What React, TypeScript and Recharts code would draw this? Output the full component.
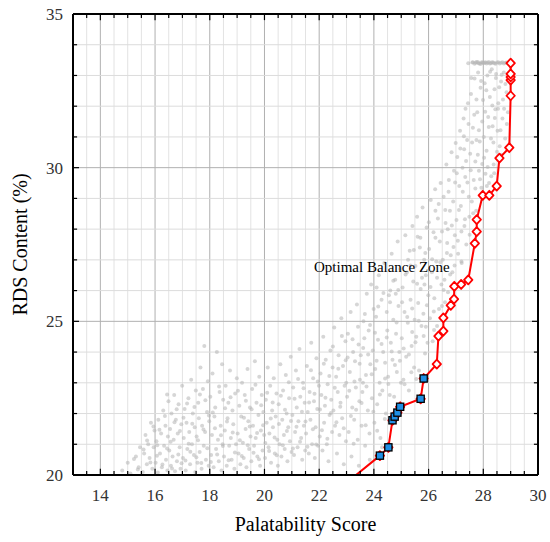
import React from 'react';
import { ScatterChart, Scatter, XAxis, YAxis, ReferenceLine, ReferenceDot } from 'recharts';

const FONT = '"Liberation Serif", "Times New Roman", Times, serif';

const xTicks = [14, 16, 18, 20, 22, 24, 26, 28, 30];
const yTicks = [20, 25, 30, 35];
const xGrid = [13.5, 14, 14.5, 15, 15.5, 16, 16.5, 17, 17.5, 18, 18.5, 19, 19.5, 20, 20.5, 21, 21.5, 22, 22.5, 23, 23.5, 24, 24.5, 25, 25.5, 26, 26.5, 27, 27.5, 28, 28.5, 29, 29.5];
const yGrid = [21, 22, 23, 24, 25, 26, 27, 28, 29, 30, 31, 32, 33, 34];

// simulated solutions (grey cloud)
const cloud: [number, number][] = [
  [14.8, 20.15], [15.0, 20.4], [15.1, 20.05], [15.3, 20.6], [15.4, 20.25], [15.45, 20.9],
  [15.55, 20.1], [15.6, 20.7], [15.65, 21.3], [15.7, 20.35], [15.75, 21.0], [15.8, 20.55], [15.85, 21.7], [15.9, 20.2], [15.95, 20.9], [15.98, 21.45],
  [16.02, 20.4], [16.05, 21.1], [16.1, 20.08], [16.12, 21.8], [16.18, 20.7], [16.22, 21.35], [16.25, 20.25], [16.3, 22.1], [16.33, 20.95], [16.38, 21.6], [16.4, 20.5], [16.45, 20.15], [16.47, 21.25], [16.49, 22.4],
  [16.52, 20.8], [16.55, 21.5], [16.58, 20.3], [16.6, 22.0], [16.64, 20.6], [16.68, 21.15], [16.7, 22.6], [16.73, 20.12], [16.76, 21.8], [16.8, 20.45], [16.83, 21.35], [16.86, 22.3], [16.9, 20.9], [16.93, 20.2], [16.96, 21.65], [16.99, 22.9],
  [17.02, 20.55], [17.05, 21.2], [17.08, 22.15], [17.12, 20.15], [17.15, 21.7], [17.18, 20.85], [17.22, 22.5], [17.25, 21.4], [17.28, 20.35], [17.32, 23.1], [17.35, 21.0], [17.38, 22.0], [17.42, 20.65], [17.45, 21.55], [17.47, 20.1], [17.49, 22.75],
  [17.52, 21.25], [17.55, 20.4], [17.58, 22.35], [17.6, 21.85], [17.63, 20.75], [17.66, 23.5], [17.7, 20.2], [17.72, 21.6], [17.75, 22.8], [17.78, 20.95], [17.8, 24.2], [17.83, 21.4], [17.86, 20.5], [17.9, 22.05], [17.93, 23.05], [17.96, 20.3], [17.98, 21.75],
  [18.02, 22.55], [18.05, 20.65], [18.08, 21.3], [18.1, 23.3], [18.14, 20.25], [18.17, 21.9], [18.2, 22.2], [18.23, 20.85], [18.26, 24.0], [18.3, 21.15], [18.33, 20.45], [18.36, 22.7], [18.4, 21.6], [18.43, 20.15], [18.45, 23.6], [18.47, 21.0], [18.49, 22.45],
  [18.52, 20.6], [18.55, 21.45], [18.58, 22.9], [18.62, 20.3], [18.65, 21.85], [18.68, 22.35], [18.71, 20.95], [18.74, 23.4], [18.77, 21.2], [18.8, 20.5], [18.83, 22.1], [18.86, 21.65], [18.9, 20.2], [18.93, 22.65], [18.96, 21.0], [18.99, 23.15],
  [19.02, 21.35], [19.05, 20.7], [19.08, 22.25], [19.12, 20.35], [19.15, 21.9], [19.18, 23.0], [19.21, 21.05], [19.24, 20.55], [19.28, 22.6], [19.31, 21.5], [19.34, 20.25], [19.38, 23.45], [19.41, 21.75], [19.44, 20.85], [19.47, 22.2], [19.49, 21.25],
  [19.52, 20.45], [19.55, 22.8], [19.58, 21.6], [19.62, 20.95], [19.65, 23.7], [19.68, 21.2], [19.71, 22.35], [19.74, 20.6], [19.78, 21.95], [19.81, 23.2], [19.84, 20.3], [19.87, 21.45], [19.9, 22.6], [19.93, 20.8], [19.96, 22.05], [19.99, 21.3],
  [20.02, 20.55], [20.05, 22.45], [20.08, 21.7], [20.12, 23.5], [20.15, 20.9], [20.18, 21.35], [20.21, 22.9], [20.24, 20.4], [20.28, 22.1], [20.31, 21.55], [20.34, 23.15], [20.38, 20.7], [20.41, 21.9], [20.44, 22.65], [20.47, 21.15], [20.49, 20.3],
  [20.52, 22.3], [20.55, 21.0], [20.58, 23.6], [20.62, 20.6], [20.65, 21.8], [20.68, 22.75], [20.71, 21.3], [20.74, 20.85], [20.78, 23.25], [20.81, 22.0], [20.84, 20.45], [20.87, 21.55], [20.9, 22.5], [20.93, 21.1], [20.96, 23.85], [20.99, 20.75],
  [21.02, 21.95], [21.05, 22.85], [21.08, 20.65], [21.12, 21.4], [21.15, 23.4], [21.18, 22.2], [21.21, 20.9], [21.24, 21.75], [21.28, 24.1], [21.31, 22.55], [21.34, 21.2], [21.38, 20.5], [21.41, 23.0], [21.44, 21.6], [21.47, 22.35], [21.49, 20.8],
  [21.52, 21.35], [21.55, 23.55], [21.58, 22.05], [21.62, 20.7], [21.65, 22.7], [21.68, 21.8], [21.71, 24.3], [21.74, 21.0], [21.78, 23.15], [21.81, 22.4], [21.84, 20.55], [21.87, 21.55], [21.9, 23.8], [21.93, 22.15], [21.96, 20.95], [21.99, 22.9],
  [22.02, 21.25], [22.05, 23.3], [22.08, 22.6], [22.12, 20.8], [22.15, 24.5], [22.18, 21.7], [22.21, 22.25], [22.24, 23.75], [22.28, 21.0], [22.31, 22.95], [22.34, 20.45], [22.38, 21.95], [22.41, 24.05], [22.44, 22.45], [22.47, 21.4], [22.49, 23.5],
  [22.52, 22.1], [22.55, 24.8], [22.58, 21.6], [22.62, 23.2], [22.65, 20.7], [22.68, 22.7], [22.71, 23.9], [22.74, 21.3], [22.78, 22.35], [22.81, 25.1], [22.84, 21.85], [22.87, 23.55], [22.9, 20.35], [22.93, 22.9], [22.96, 24.35], [22.98, 21.1], [22.99, 23.0],
  [23.02, 22.55], [23.05, 24.6], [23.08, 21.4], [23.12, 23.35], [23.15, 25.3], [23.18, 20.6], [23.21, 22.2], [23.24, 24.0], [23.28, 21.8], [23.31, 23.7], [23.34, 22.85], [23.38, 25.55], [23.41, 21.15], [23.44, 24.25], [23.47, 22.4], [23.49, 23.1], [23.45, 20.3],
  [23.52, 23.9], [23.55, 21.6], [23.58, 22.7], [23.62, 25.0], [23.65, 24.45], [23.68, 20.95], [23.71, 23.25], [23.74, 25.9], [23.78, 22.1], [23.81, 24.7], [23.84, 21.35], [23.87, 23.6], [23.9, 26.2], [23.93, 22.5], [23.96, 24.05], [23.99, 25.4], [23.85, 20.5], [23.6, 23.0],
  [24.02, 21.7], [24.05, 23.45], [24.08, 25.15], [24.12, 22.3], [24.15, 24.4], [24.18, 26.5], [24.21, 23.0], [24.24, 21.2], [24.28, 25.7], [24.31, 22.75], [24.34, 24.0], [24.38, 26.9], [24.41, 23.65], [24.44, 22.0], [24.47, 25.3], [24.49, 24.7], [24.3, 20.9], [24.1, 26.1],
  [24.52, 23.2], [24.55, 25.85], [24.58, 22.6], [24.62, 24.3], [24.65, 27.2], [24.68, 23.75], [24.71, 25.05], [24.74, 22.55], [24.78, 26.35], [24.81, 24.6], [24.84, 23.35], [24.87, 27.6], [24.9, 25.5], [24.93, 24.0], [24.96, 26.7], [24.99, 23.0], [24.6, 26.0], [24.8, 25.9],
  [25.02, 24.45], [25.05, 26.1], [25.08, 23.1], [25.12, 25.3], [25.15, 27.8], [25.18, 23.85], [25.21, 26.6], [25.24, 24.95], [25.28, 22.75], [25.31, 27.3], [25.34, 25.7], [25.38, 24.2], [25.41, 28.1], [25.44, 26.3], [25.47, 23.5], [25.49, 25.05], [25.25, 27.0], [25.4, 24.65],
  [25.52, 26.8], [25.55, 24.5], [25.58, 28.4], [25.62, 25.6], [25.65, 23.4], [25.68, 27.4], [25.71, 26.05], [25.74, 24.85], [25.78, 28.7], [25.81, 25.25], [25.84, 27.0], [25.87, 23.95], [25.9, 26.5], [25.93, 28.05], [25.96, 24.3], [25.99, 25.85], [25.6, 27.75], [25.85, 26.2],
  [26.02, 27.35], [26.05, 25.1], [26.08, 28.95], [26.12, 26.6], [26.15, 24.35], [26.18, 27.9], [26.21, 25.75], [26.24, 29.3], [26.28, 26.95], [26.31, 24.85], [26.34, 28.35], [26.38, 25.4], [26.41, 27.6], [26.44, 29.5], [26.47, 26.2], [26.49, 25.5], [26.25, 28.6],
  [26.52, 27.0], [26.55, 29.05], [26.58, 26.35], [26.62, 28.2], [26.65, 30.1], [26.68, 27.55], [26.71, 25.95], [26.74, 29.6], [26.78, 28.6], [26.81, 27.15], [26.84, 30.5], [26.87, 26.6], [26.9, 28.9], [26.93, 29.9], [26.96, 27.8], [26.99, 30.8], [26.7, 28.0],
  [27.02, 28.3], [27.05, 30.35], [27.08, 27.2], [27.12, 29.4], [27.15, 31.2], [27.18, 28.75], [27.21, 26.9], [27.24, 30.0], [27.28, 31.6], [27.31, 28.1], [27.34, 29.7], [27.38, 27.5], [27.41, 30.9], [27.44, 32.1], [27.47, 29.05], [27.49, 28.4], [27.3, 30.6],
  [27.52, 30.45], [27.55, 32.4], [27.58, 28.9], [27.62, 31.3], [27.65, 29.6], [27.68, 32.9], [27.71, 30.2], [27.74, 28.6], [27.78, 31.8], [27.81, 33.1], [27.84, 29.9], [27.87, 30.85], [27.9, 32.6], [27.93, 29.35], [27.96, 31.5], [27.99, 32.2], [27.75, 30.9],
  [28.02, 31.0], [28.05, 32.75], [28.08, 29.8], [28.12, 30.55], [28.15, 33.0], [28.18, 31.65], [28.21, 29.5], [28.24, 32.3], [28.28, 30.95], [28.31, 33.2], [28.34, 31.35], [28.38, 30.1], [28.41, 32.55], [28.44, 31.9], [28.47, 33.05],
  [28.52, 31.2], [28.55, 32.1], [28.6, 30.7], [28.65, 32.8], [28.7, 31.6], [28.75, 33.1], [28.8, 30.95], [28.85, 32.45], [28.9, 31.8], [28.94, 33.0],
  [27.45, 33.4], [27.6, 33.42], [27.68, 33.38], [27.75, 33.44], [27.82, 33.4], [27.9, 33.37], [27.97, 33.43], [28.05, 33.41], [28.12, 33.39], [28.2, 33.44], [28.28, 33.4], [28.36, 33.42], [28.45, 33.38], [28.55, 33.43], [28.65, 33.41], [28.75, 33.39], [28.85, 33.42],
];

// second pass over the denser middle of the band
const cloudDense: [number, number][] = [
  [15.23, 20.52], [15.37, 20.18], [15.58, 20.83], [15.71, 21.12], [15.83, 20.41], [15.94, 21.58], [16.07, 20.63], [16.16, 21.47], [16.27, 20.34], [16.36, 21.92],
  [16.44, 20.86], [16.57, 21.08], [16.62, 20.21], [16.71, 21.72], [16.79, 22.14], [16.85, 20.67], [16.91, 21.43], [16.97, 20.38], [16.44, 22.62], [16.08, 20.97],
  [17.04, 21.86], [17.11, 20.47], [17.17, 22.33], [17.23, 21.02], [17.29, 20.76], [17.36, 21.67], [17.44, 22.21], [17.51, 20.58], [17.57, 21.13], [17.64, 22.62],
  [17.69, 20.39], [17.77, 21.48], [17.84, 22.43], [17.91, 20.87], [17.97, 21.94], [18.04, 20.42], [18.11, 22.03], [18.19, 21.52], [18.27, 20.67], [18.34, 22.88],
  [18.41, 21.29], [18.48, 20.94], [18.56, 22.17], [18.63, 21.74], [18.69, 20.48], [18.76, 22.53], [18.84, 21.38], [18.92, 20.73],
  [19.03, 22.74], [19.1, 21.13], [19.17, 20.62], [19.25, 21.86], [19.32, 22.42], [19.39, 20.97], [19.46, 21.58], [19.53, 22.14], [19.6, 20.72], [19.67, 22.94],
  [19.73, 21.37], [19.8, 20.51], [19.88, 22.27], [19.95, 21.62], [20.03, 21.04], [20.1, 22.68], [20.17, 20.78], [20.23, 21.84], [20.3, 22.36], [20.37, 21.22],
  [20.45, 20.64], [20.53, 21.66], [20.6, 22.58], [20.67, 20.97], [20.75, 22.12], [20.82, 21.43], [20.89, 23.02], [20.97, 21.76],
  [21.04, 20.86], [21.1, 22.48], [21.17, 21.57], [21.23, 23.12], [21.3, 21.08], [21.37, 22.06], [21.43, 22.82], [21.5, 21.74], [21.57, 20.92], [21.63, 22.36],
  [21.7, 23.41], [21.77, 21.49], [21.83, 22.64], [21.89, 20.99], [21.95, 23.04], [22.03, 22.13], [22.1, 21.46], [22.17, 23.62], [22.23, 22.51], [22.3, 21.18],
  [22.37, 23.22], [22.43, 22.02], [22.5, 24.18], [22.57, 22.84], [22.63, 21.72], [22.7, 23.46], [22.77, 22.22], [22.83, 24.52], [22.9, 21.52], [22.97, 23.73],
  [23.04, 23.82], [23.1, 22.74], [23.16, 21.92], [23.22, 24.42], [23.29, 23.04], [23.35, 22.12], [23.42, 24.82], [23.48, 23.62], [23.55, 22.34], [23.61, 24.13],
  [23.67, 25.24], [23.73, 22.88], [23.79, 23.92], [23.86, 24.88], [23.92, 23.28], [23.98, 22.06], [24.04, 24.63], [24.1, 23.72], [24.16, 25.48], [24.22, 22.62],
  [24.28, 24.26], [24.35, 25.92], [24.41, 23.14], [24.47, 24.47], [24.53, 22.96], [24.59, 25.62], [24.65, 24.02], [24.71, 26.32], [24.77, 23.58], [24.83, 24.96],
  [24.89, 26.02], [24.95, 23.72], [24.4, 21.82], [24.12, 21.44], [23.7, 21.62], [23.26, 21.02],
  [25.03, 25.62], [25.09, 24.12], [25.16, 26.52], [25.22, 25.14], [25.28, 23.92], [25.34, 26.82], [25.4, 25.42], [25.46, 27.32], [25.52, 24.32], [25.58, 26.22],
  [25.64, 25.02], [25.7, 27.72], [25.76, 26.42], [25.82, 24.52], [25.88, 27.22], [25.94, 25.52], [26.01, 28.22], [26.07, 26.12], [26.13, 27.02], [26.19, 25.32],
  [26.25, 27.72], [26.31, 26.42], [26.37, 28.82], [26.43, 26.92], [26.49, 27.92], [26.55, 26.02], [26.61, 28.62], [26.67, 27.22], [26.73, 29.22], [26.79, 26.52],
  [26.85, 28.12], [26.91, 27.42], [26.97, 29.52], [25.12, 22.95], [25.37, 23.34], [25.55, 23.12], [25.9, 24.82], [26.2, 24.72], [26.6, 25.62], [26.95, 26.82],
  [27.03, 29.82], [27.07, 27.62], [27.11, 28.62], [27.16, 30.62], [27.2, 27.92], [27.25, 29.22], [27.29, 31.02], [27.33, 28.32], [27.37, 30.22], [27.42, 29.52],
  [27.46, 31.42], [27.5, 27.82], [27.54, 29.92], [27.59, 30.82], [27.63, 28.52], [27.67, 31.72], [27.71, 29.32], [27.75, 32.22], [27.8, 30.42], [27.84, 31.22],
  [27.88, 29.62], [27.92, 32.82], [27.96, 30.12], [27.56, 32.92], [27.35, 31.92], [27.2, 26.95],
  [28.03, 30.32], [28.07, 31.82], [28.11, 32.52], [28.16, 30.02], [28.2, 31.32], [28.25, 33.12], [28.29, 29.72], [28.33, 32.02], [28.37, 30.82], [28.42, 31.62],
  [28.46, 32.92], [28.5, 30.52], [28.54, 31.92], [28.58, 32.62], [28.63, 31.22], [28.67, 33.02], [28.72, 32.22], [28.76, 31.92], [28.81, 32.72], [28.86, 31.42],
  [28.9, 32.92], [28.66, 30.42], [28.4, 29.82], [28.13, 29.4],
  [27.62, 33.43], [27.72, 33.41], [27.8, 33.44], [27.86, 33.39], [27.93, 33.42], [28.0, 33.4], [28.08, 33.43], [28.16, 33.41], [28.24, 33.39], [28.32, 33.43],
  [28.4, 33.4], [28.5, 33.42], [28.6, 33.39], [28.7, 33.43], [28.8, 33.41], [28.9, 33.4],
];

// Pareto front (red), from the lower end upwards
const front: [number, number][] = [
  [22.66, 19.5], [24.22, 20.63], [24.53, 20.9], [24.68, 21.78], [24.76, 21.9], [24.86, 22.03], [24.96, 22.22],
  [25.71, 22.48], [25.82, 23.14], [26.3, 23.61], [26.36, 24.52], [26.54, 24.68], [26.54, 25.11], [26.81, 25.52],
  [26.93, 25.72], [26.94, 26.14], [27.19, 26.2], [27.45, 26.35], [27.69, 27.54], [27.76, 27.92], [27.76, 28.31],
  [27.98, 29.1], [28.22, 29.1], [28.49, 29.4], [28.59, 30.31], [28.95, 30.65], [29.0, 32.34], [29.0, 32.85],
  [29.0, 32.95], [29.0, 33.05], [29.0, 33.4],
];

// highlighted solutions (blue squares)
const optimal: [number, number][] = [
  [24.22, 20.63], [24.53, 20.9], [24.68, 21.78], [24.76, 21.9], [24.86, 22.03], [24.96, 22.22], [25.71, 22.48], [25.82, 23.14],
];

const toPts = (arr: [number, number][]) => arr.map(([x, y]) => ({ x, y }));
const cloudData = toPts([...cloud, ...cloudDense]);
const frontData = toPts(front);
const optimalData = toPts(optimal);

function CloudDot(props: any) {
  const { cx, cy } = props;
  if (cx == null || cy == null) return null;
  return <circle cx={cx} cy={cy} r={2} fill="#b5b5b5" fillOpacity={0.55} />;
}

function Diamond(props: any) {
  const { cx, cy } = props;
  if (cx == null || cy == null) return null;
  return (
    <path
      d={`M${cx},${cy - 4.5}L${cx + 4.2},${cy}L${cx},${cy + 4.5}L${cx - 4.2},${cy}Z`}
      fill="#fff"
      stroke="#ff0000"
      strokeWidth={1.8}
      strokeLinejoin="round"
    />
  );
}

function BlueSquare(props: any) {
  const { cx, cy } = props;
  if (cx == null || cy == null) return null;
  return (
    <g>
      <path d={`M${cx},${cy - 5}L${cx + 4.6},${cy}L${cx},${cy + 5}L${cx - 4.6},${cy}Z`} fill="#ff0000" />
      <rect x={cx - 3.6} y={cy - 3.6} width={7.2} height={7.2} fill="#1f8fe5" stroke="#000" strokeWidth={1.3} />
    </g>
  );
}

function YTitle(props: any) {
  const vb = props.viewBox || {};
  const x = (vb.x || 0) + 20;
  const y = (vb.y || 0) + (vb.height || 0) / 2;
  return (
    <text x={x} y={y} transform={`rotate(-90 ${x} ${y})`} textAnchor="middle" dominantBaseline="central"
      fontSize={20} fontFamily={FONT} fill="#000">
      RDS Content (%)
    </text>
  );
}

export default function App() {
  return (
    <div style={{ position: 'absolute', left: 0, top: 0, width: 550, height: 542, background: '#fff', fontFamily: FONT }}>
      <ScatterChart width={550} height={542} margin={{ top: 14, right: 12, left: 0, bottom: 0 }}>
        <XAxis
          type="number"
          dataKey="x"
          domain={[13, 30]}
          ticks={xTicks}
          interval={0}
          allowDataOverflow
          axisLine={false}
          tickLine={false}
          tickSize={0}
          tickMargin={14}
          height={67}
          tick={{ fontSize: 17, fill: '#333', fontFamily: FONT }}
          label={{ value: 'Palatability Score', position: 'insideBottom', offset: 11, fontSize: 20, fill: '#000', fontFamily: FONT }}
        />
        <YAxis
          type="number"
          dataKey="y"
          domain={[20, 35]}
          ticks={yTicks}
          interval={0}
          allowDataOverflow
          axisLine={false}
          tickLine={false}
          tickSize={0}
          tickMargin={10}
          width={73}
          tick={{ fontSize: 17, fill: '#333', fontFamily: FONT }}
          label={<YTitle />}
        />

        {xGrid.map((v) => (
          <ReferenceLine key={`gx${v}`} x={v} stroke={v % 2 === 0 ? '#b0b0b0' : '#e3e3e3'} strokeWidth={1} zIndex={-50} />
        ))}
        {yGrid.map((v) => (
          <ReferenceLine key={`gy${v}`} y={v} stroke={v % 5 === 0 ? '#b0b0b0' : '#dcdcdc'} strokeWidth={1} zIndex={-50} />
        ))}

        <Scatter data={cloudData} shape={CloudDot} isAnimationActive={false} />
        <Scatter
          data={frontData}
          shape={Diamond}
          line={{ stroke: '#ff0000', strokeWidth: 2 }}
          lineType="joint"
          isAnimationActive={false}
        />
        <Scatter data={optimalData} shape={BlueSquare} isAnimationActive={false} />

        <ReferenceDot
          x={21.81}
          y={26.77}
          r={0}
          fill="none"
          stroke="none"
          label={{ value: 'Optimal Balance Zone', position: 'right', offset: 0, fontSize: 15, fill: '#000', fontFamily: FONT }}
        />

        {xGrid.map((v) => {
          const len = v % 2 === 0 ? 0.2 : 0.13;
          return [
            <ReferenceLine key={`tb${v}`} segment={[{ x: v, y: 20 }, { x: v, y: 20 + len }]} stroke="#000" strokeWidth={1.2} zIndex={700} />,
            <ReferenceLine key={`tt${v}`} segment={[{ x: v, y: 35 }, { x: v, y: 35 - len }]} stroke="#000" strokeWidth={1.2} zIndex={700} />,
          ];
        })}
        {yGrid.map((v) => {
          const len = v % 5 === 0 ? 0.22 : 0.15;
          return [
            <ReferenceLine key={`tl${v}`} segment={[{ x: 13, y: v }, { x: 13 + len, y: v }]} stroke="#000" strokeWidth={1.2} zIndex={700} />,
            <ReferenceLine key={`tr${v}`} segment={[{ x: 30, y: v }, { x: 30 - len, y: v }]} stroke="#000" strokeWidth={1.2} zIndex={700} />,
          ];
        })}

        <ReferenceLine x={13} stroke="#000" strokeWidth={2} zIndex={700} />
        <ReferenceLine x={30} stroke="#000" strokeWidth={2} zIndex={700} />
        <ReferenceLine y={20} stroke="#000" strokeWidth={2} zIndex={700} />
        <ReferenceLine y={35} stroke="#000" strokeWidth={2} zIndex={700} />
      </ScatterChart>
    </div>
  );
}
